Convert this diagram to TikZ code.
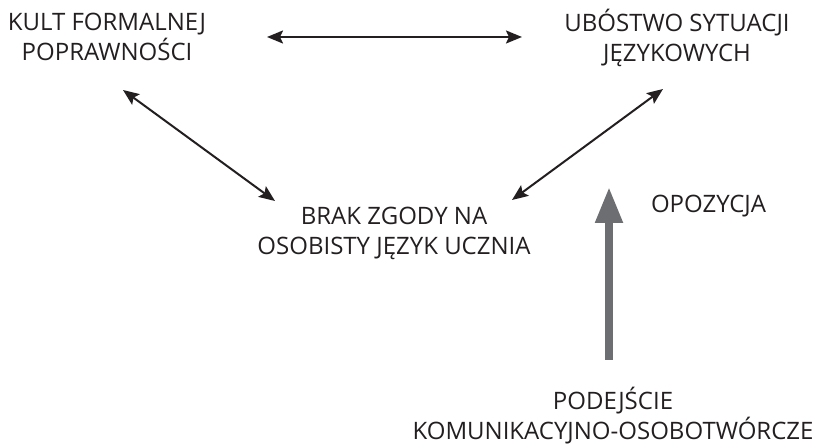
\documentclass[tikz,border=0pt]{standalone}
\usepackage{fontspec}
\setmainfont{Open Sans}
\usetikzlibrary{arrows.meta}
\definecolor{txt}{RGB}{35,31,32}
\definecolor{graya}{RGB}{109,110,113}
\tikzset{
  lbl/.style={align=center, anchor=base, inner sep=0pt, text=txt, font=\fontsize{24}{30}\selectfont},
  dbl/.style={line width=2pt, draw=txt, {Stealth[length=16pt,width=13pt,inset=3pt]}-{Stealth[length=16pt,width=13pt,inset=3pt]}},
  bigarrow/.style={line width=8pt, draw=graya, -{Triangle[width=26pt,length=36pt]}}
}
\begin{document}
\begin{tikzpicture}[x=1pt,y=-1pt]
\useasboundingbox (0,0) rectangle (814,446);
\node[lbl] (kult) at (107,61) {KULT FORMALNEJ\\POPRAWNOŚCI};
\node[lbl] (ubo) at (677,62) {UBÓSTWO SYTUACJI\\JĘZYKOWYCH};
\node[lbl] (brak) at (394,255) {BRAK ZGODY NA\\OSOBISTY JĘZYK UCZNIA};
\node[lbl] (opo) at (708.5,213) {OPOZYCJA};
\node[lbl] (pod) at (613,439) {PODEJŚCIE\\KOMUNIKACYJNO-OSOBOTWÓRCZE};
\coordinate (h1) at (267,37);
\coordinate (h2) at (522,37);
\coordinate (l1) at (123,90);
\coordinate (l2) at (275,201);
\coordinate (r1) at (663,89);
\coordinate (r2) at (512,200);
\coordinate (g1) at (609,360);
\coordinate (g2) at (609,187);
\draw[dbl] (h1) -- (h2);
\draw[dbl] (l1) -- (l2);
\draw[dbl] (r1) -- (r2);
\draw[bigarrow] (g1) -- (g2);
\end{tikzpicture}
\end{document}
